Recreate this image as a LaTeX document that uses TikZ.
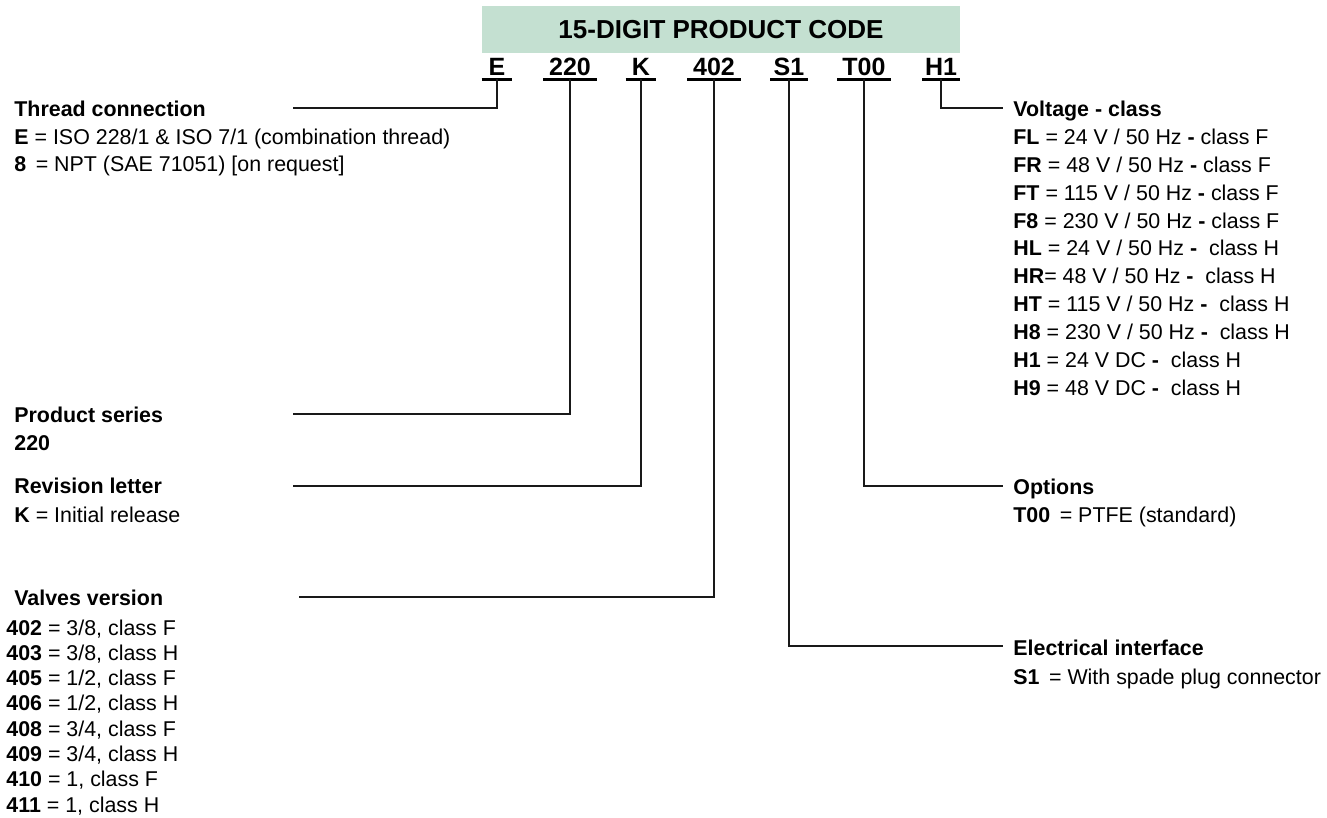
\documentclass[tikz,border=0pt]{standalone}
\usepackage{fontspec}
\setmainfont{Liberation Sans}
\usepackage{tikz}
\usetikzlibrary{positioning}
\definecolor{codegreen}{RGB}{196,224,209}
\newcommand{\codeitem}[2]{\textbf{#1} = #2}
\tikzstyle{title} = [rectangle, fill = codegreen, minimum width = 239pt,
  minimum height = 23.5pt, font = \fontsize{13}{15}\selectfont\bfseries]
\tikzstyle{code} = [rectangle, minimum width = 26.5pt, inner xsep = 0,
  inner ysep = 1.5pt, text height = 9pt, text depth = 0pt,
  font = \fontsize{12.5}{14}\selectfont\bfseries, text centered]
\tikzstyle{narrow} = [minimum width = 15pt]
\tikzstyle{mid} = [minimum width = 18.5pt]
\tikzstyle{head} = [inner sep = 0, anchor = base west,
  font = \fontsize{10.7}{12}\selectfont\bfseries]
\tikzstyle{item} = [inner sep = 0, anchor = base west,
  font = \fontsize{10.7}{12}\selectfont]
\tikzstyle{bar} = [draw = black, line width = 1.2pt]
\tikzstyle{link} = [draw = black!90, line width = 1pt]

\begin{document}
\begin{tikzpicture}[x = 0.5pt, y = -0.5pt, node distance = 0]
  \useasboundingbox (0, 0) rectangle (1327, 818);
  % title
  \node [title] (title) at (721, 29.5) {15-DIGIT PRODUCT CODE};
  % code
  \node [code, narrow] (code-E) at (497, 67) {E};
  \node [code, right of = code-E, xshift = 36.5pt] (code-220) {220};
  \node [code, narrow, right of = code-220, xshift = 35.5pt] (code-K) {K};
  \node [code, right of = code-K, xshift = 36.5pt] (code-402) {402};
  \node [code, mid, right of = code-402, xshift = 37.5pt] (code-S1) {S1};
  \node [code, right of = code-S1, xshift = 37.5pt] (code-T00) {T00};
  \node [code, mid, right of = code-T00, xshift = 38.5pt] (code-H1) {H1};
  \foreach \c in {E, 220, K, 402, S1, T00, H1}
    \draw [bar] (code-\c.south west) -- (code-\c.south east);

  % thread
  \node [head] (thread-head) at (14, 117) {Thread connection};
  \node [below = 13.75pt of thread-head.base west, item] (thread-1)
    {\codeitem{E}{ISO 228/1 \& ISO 7/1 (combination thread)}};
  \node [below = 13.75pt of thread-1.base west, item] (thread-2)
    {\codeitem{8\,}{NPT (SAE 71051) [on request]}};
  % product
  \node [head] (product-head) at (14, 422) {Product series};
  \node [below = 14pt of product-head.base west, item] (product-1)
    {\textbf{220}};
  % revision
  \node [head] (revision-head) at (14, 493) {Revision letter};
  \node [below = 14.5pt of revision-head.base west, item] (revision-1)
    {\codeitem{K}{Initial release}};
  % valves
  \node [head] (valves-head) at (14, 605) {Valves version};
  \node [below = 15pt of valves-head.base west, item, xshift = -4pt]
    (valves-1) {\codeitem{402}{3/8, class F}};
  \node [below = 12.65pt of valves-1.base west, item] (valves-2)
    {\codeitem{403}{3/8, class H}};
  \node [below = 12.65pt of valves-2.base west, item] (valves-3)
    {\codeitem{405}{1/2, class F}};
  \node [below = 12.65pt of valves-3.base west, item] (valves-4)
    {\codeitem{406}{1/2, class H}};
  \node [below = 12.65pt of valves-4.base west, item] (valves-5)
    {\codeitem{408}{3/4, class F}};
  \node [below = 12.65pt of valves-5.base west, item] (valves-6)
    {\codeitem{409}{3/4, class H}};
  \node [below = 12.65pt of valves-6.base west, item] (valves-7)
    {\codeitem{410}{1, class F}};
  \node [below = 12.65pt of valves-7.base west, item] (valves-8)
    {\codeitem{411}{1, class H}};

  % voltage
  \node [head] (volt-head) at (1013, 117) {Voltage - class};
  \node [below = 13.9pt of volt-head.base west, item] (volt-1)
    {\codeitem{FL}{24 V / 50 Hz \textbf{-} class F}};
  \node [below = 13.9pt of volt-1.base west, item] (volt-2)
    {\codeitem{FR}{48 V / 50 Hz \textbf{-} class F}};
  \node [below = 13.9pt of volt-2.base west, item] (volt-3)
    {\codeitem{FT}{115 V / 50 Hz \textbf{-} class F}};
  \node [below = 13.9pt of volt-3.base west, item] (volt-4)
    {\codeitem{F8}{230 V / 50 Hz \textbf{-} class F}};
  \node [below = 13.9pt of volt-4.base west, item] (volt-5)
    {\codeitem{HL}{24 V / 50 Hz \textbf{-} \ class H}};
  \node [below = 13.9pt of volt-5.base west, item] (volt-6)
    {\textbf{HR}= 48 V / 50 Hz \textbf{-} \ class H};
  \node [below = 13.9pt of volt-6.base west, item] (volt-7)
    {\codeitem{HT}{115 V / 50 Hz \textbf{-} \ class H}};
  \node [below = 13.9pt of volt-7.base west, item] (volt-8)
    {\codeitem{H8}{230 V / 50 Hz \textbf{-} \ class H}};
  \node [below = 13.9pt of volt-8.base west, item] (volt-9)
    {\codeitem{H1}{24 V DC \textbf{-} \ class H}};
  \node [below = 13.9pt of volt-9.base west, item] (volt-10)
    {\codeitem{H9}{48 V DC \textbf{-} \ class H}};
  % options
  \node [head] (options-head) at (1013, 494) {Options};
  \node [below = 14pt of options-head.base west, item] (options-1)
    {\codeitem{T00\,}{PTFE (standard)}};
  % electrical
  \node [head] (elec-head) at (1013, 655) {Electrical interface};
  \node [below = 14.5pt of elec-head.base west, item] (elec-1)
    {\codeitem{S1\,}{With spade plug connector}};

  % line ends
  \coordinate (thread-end) at (293, 108);
  \coordinate (product-end) at (293, 414);
  \coordinate (revision-end) at (293, 486);
  \coordinate (valves-end) at (299, 597);
  \coordinate (volt-end) at (1003, 108);
  \coordinate (options-end) at (1003, 486);
  \coordinate (elec-end) at (1003, 646);

  \draw [link] (code-E.south) |- (thread-end);
  \draw [link] (code-220.south) |- (product-end);
  \draw [link] (code-K.south) |- (revision-end);
  \draw [link] (code-402.south) |- (valves-end);
  \draw [link] (code-S1.south) |- (elec-end);
  \draw [link] (code-T00.south) |- (options-end);
  \draw [link] (code-H1.south) |- (volt-end);
\end{tikzpicture}
\end{document}
